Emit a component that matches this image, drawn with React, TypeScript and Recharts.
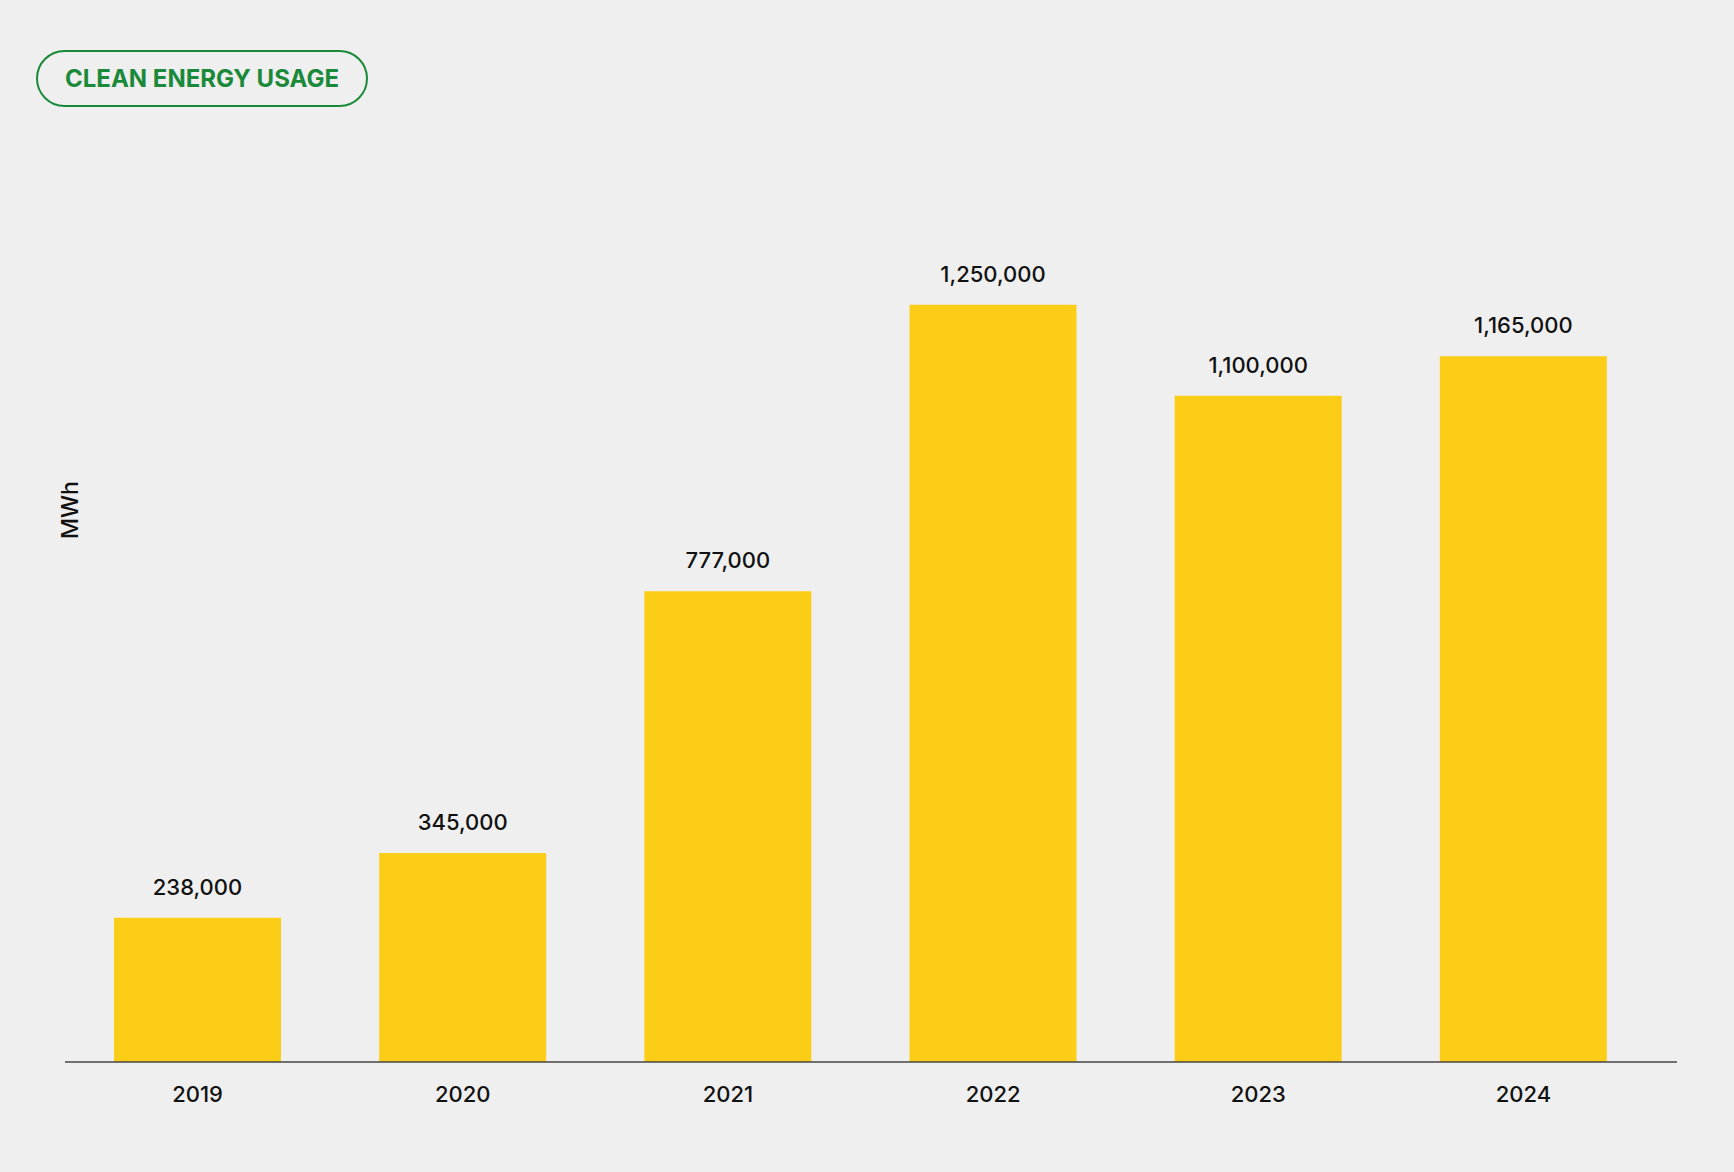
import { BarChart, Bar, XAxis, YAxis, LabelList } from "recharts";

const years = ["2019", "2020", "2021", "2022", "2023", "2024"];
const usage = [238000, 345000, 777000, 1250000, 1100000, 1165000];

const data = years.map((year, i) => ({ year, usage: usage[i] }));

const FONT = "Inter, 'Open Sans', sans-serif";

export default function App() {
  return (
    <div
      style={{
        position: "absolute",
        left: 0,
        top: 0,
        width: 1734,
        height: 1172,
        background: "#efefef",
        fontFamily: FONT,
      }}
    >
      <div
        style={{
          position: "absolute",
          left: 36,
          top: 50,
          width: 332,
          height: 57,
          boxSizing: "border-box",
          border: "2px solid #1a8a3a",
          borderRadius: 30,
          display: "flex",
          alignItems: "center",
          justifyContent: "center",
          color: "#1a8a3a",
          fontWeight: 700,
          fontSize: 24,
        }}
      >
        CLEAN ENERGY USAGE
      </div>
      <BarChart
        width={1734}
        height={1172}
        data={data}
        margin={{ top: 214, right: 57, bottom: 80, left: 65 }}
      >
        <XAxis
          dataKey="year"
          axisLine={{ stroke: "#444", strokeWidth: 1.5 }}
          tickLine={false}
          tickSize={0}
          tickMargin={24}
          padding={{ left: 0, right: 21 }}
          tick={{ fill: "#111", fontSize: 22, fontFamily: FONT, fontWeight: 500 }}
        />
        <YAxis hide domain={[0, 1400000]} />
        <text
          x={0}
          y={0}
          transform="translate(78 510) rotate(-90)"
          textAnchor="middle"
          fill="#111"
          fontSize={23}
          fontFamily={FONT}
          fontWeight={500}
        >
          MWh
        </text>
        <Bar dataKey="usage" fill="#fccd17" barSize={167} isAnimationActive={false}>
          <LabelList
            dataKey="usage"
            position="top"
            offset={23}
            formatter={(v: number) => v.toLocaleString("en-US")}
            style={{ fill: "#111", fontSize: 22, fontFamily: FONT, fontWeight: 500 }}
          />
        </Bar>
      </BarChart>
    </div>
  );
}
